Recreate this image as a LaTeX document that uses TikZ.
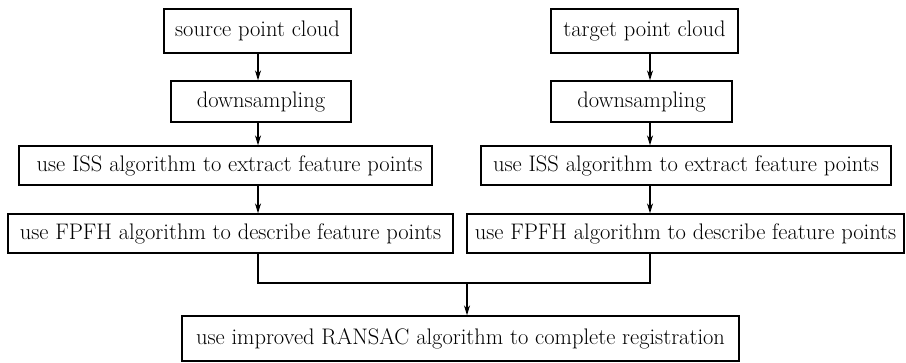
\documentclass[tikz,border=0pt]{standalone}
\usepackage{tikz}
\usetikzlibrary{arrows.meta,calc,positioning}

\begin{document}
\begin{tikzpicture}[x=1pt, y=-1pt, >={Stealth[length=10pt,width=6pt]},
    stage/.style={draw, line width=1.3pt, inner sep=0pt, minimum height=40pt, font=\fontsize{22.5}{26}\selectfont},
    flow/.style={->, line width=1.2pt}]
    \useasboundingbox (0,0) rectangle (906,363);
    % the two pipelines run down these columns
    \coordinate (colL) at (258,0);
    \coordinate (colR) at (650,0);
    \coordinate (join) at (467,283);

    % source side
    \node[stage, minimum width=187pt, minimum height=44pt] (srcL) at (257.5,31) {source point cloud};
    \node[stage, minimum width=180pt, minimum height=41pt] (dsL) at (261,101.5) {downsampling};
    \node[stage, minimum width=413pt, minimum height=39pt] (issL) at (225.5,165.5) {\hspace{8pt}use ISS algorithm to extract feature points};
    \node[stage, minimum width=445pt, minimum height=39pt] (fpL) at (230.5,233.5) {use FPFH algorithm to describe feature points\hspace{6pt}};

    % target side
    \node[stage, minimum width=187pt, minimum height=44pt] (srcR) at (644.5,31) {target point cloud};
    \node[stage, minimum width=181pt, minimum height=41pt] (dsR) at (641.5,101.5) {downsampling};
    \node[stage, minimum width=410pt, minimum height=39pt] (issR) at (686,165.5) {use ISS algorithm to extract feature points};
    \node[stage, minimum width=437pt, minimum height=39pt] (fpR) at (685.5,233.5) {use FPFH algorithm to describe feature points};

    \node[stage, minimum width=557pt, minimum height=45pt] (ran) at (460.5,338.5) {use improved RANSAC algorithm to complete registration};

    \draw[flow] (srcL.south -| colL) -- (dsL.north -| colL);
    \draw[flow] (dsL.south -| colL) -- (issL.north -| colL);
    \draw[flow] (issL.south -| colL) -- (fpL.north -| colL);
    \draw[flow] (srcR.south -| colR) -- (dsR.north -| colR);
    \draw[flow] (dsR.south -| colR) -- (issR.north -| colR);
    \draw[flow] (issR.south -| colR) -- (fpR.north -| colR);

    % both descriptors meet before registration
    \draw[line width=1.2pt] (fpL.south -| colL) |- (join) -| (fpR.south -| colR);
    \draw[flow] (join) -- (ran.north -| join);
\end{tikzpicture}
\end{document}
